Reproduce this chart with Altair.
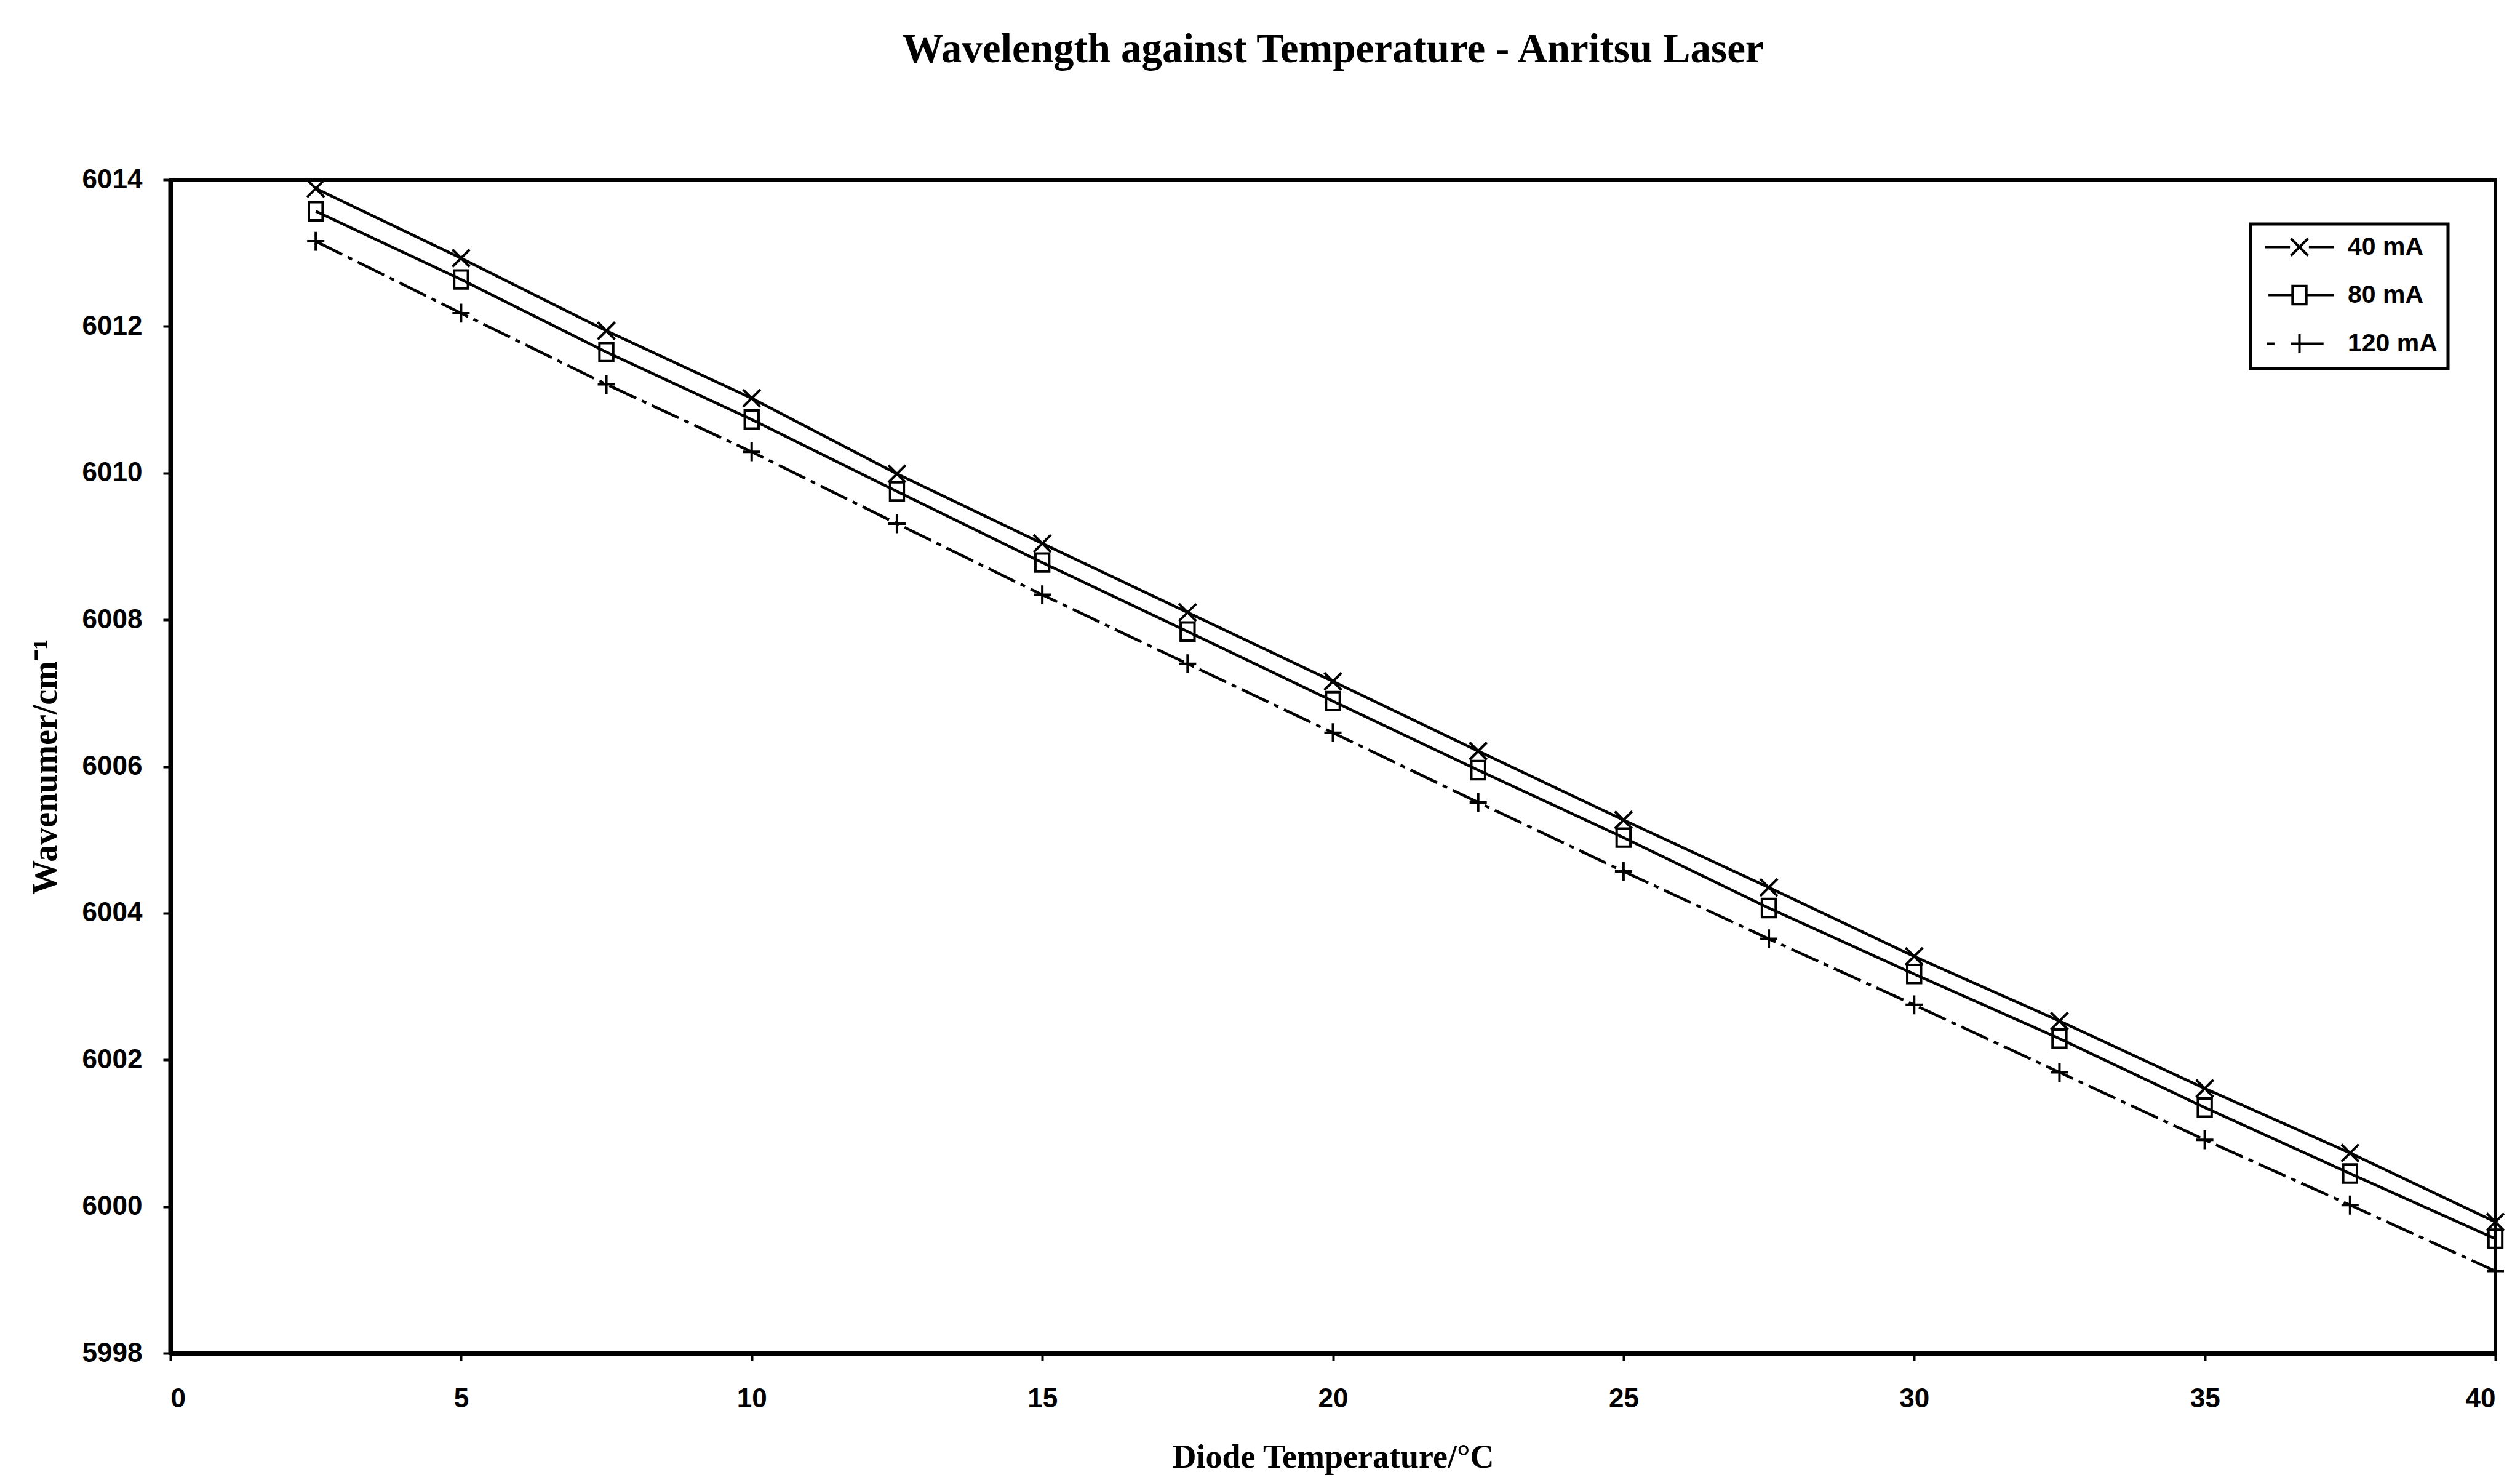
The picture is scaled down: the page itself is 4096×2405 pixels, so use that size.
import altair as alt
import pandas as pd

# ---- data ----
temps = [2.5, 5, 7.5, 10, 12.5, 15, 17.5, 20, 22.5, 25, 27.5, 30, 32.5, 35, 37.5, 40]
wn_40 = [6013.88, 6012.93, 6011.94, 6011.02, 6009.99, 6009.04, 6008.10, 6007.16,
         6006.21, 6005.27, 6004.35, 6003.41, 6002.53, 6001.61, 6000.73, 5999.79]
wn_80 = [6013.57, 6012.64, 6011.65, 6010.73, 6009.75, 6008.78, 6007.84, 6006.89,
         6005.95, 6005.03, 6004.07, 6003.17, 6002.29, 6001.35, 6000.45, 5999.56]
wn_120 = [6013.16, 6012.18, 6011.21, 6010.29, 6009.31, 6008.34, 6007.40, 6006.46,
          6005.51, 6004.57, 6003.65, 6002.75, 6001.83, 6000.91, 6000.02, 5999.12]
series = ["40 mA", "80 mA", "120 mA"]
x_ticks = [0, 5, 10, 15, 20, 25, 30, 35, 40]
y_ticks = [5998, 6000, 6002, 6004, 6006, 6008, 6010, 6012, 6014]

rows = []
for name, vals in zip(series, [wn_40, wn_80, wn_120]):
    for t, v in zip(temps, vals):
        rows.append({"temp": t, "wn": v, "series": name, "key": name})
df = pd.DataFrame(rows)

SERIF = "'Liberation Serif', 'Times New Roman', serif"
SANS = "'Liberation Sans Narrow', 'Liberation Sans', Arial, sans-serif"

# marker shapes (unit box -1..1)
X_PATH = "M-1,-1L1,1M-1,1L1,-1"
SQ_PATH = "M-0.8,-1.05H0.8V1.05H-0.8Z"
PLUS_PATH = "M-1,0H1M0,-1.1V1.1"
# legend symbols: line stubs + marker
LEG_40 = "M-4,0H-1.1M1.1,0H4" + X_PATH
LEG_80 = "M-3.6,0H-0.8M0.8,0H4" + SQ_PATH
LEG_120 = "M-3.8,0H-2.9M1,0H2.8" + PLUS_PATH

W, H = 3779, 1907

xenc = alt.X("temp:Q",
             scale=alt.Scale(domain=[0, 40], nice=False, zero=False),
             axis=alt.Axis(values=x_ticks, title="Diode Temperature/°C",
                           labelPadding=40, titlePadding=46, titleFontSize=54))
yenc = alt.Y("wn:Q",
             scale=alt.Scale(domain=[5998, 6014], nice=False, zero=False),
             axis=alt.Axis(values=y_ticks, format="d", title="Wavenumer/cm⁻¹",
                           labelPadding=34, titlePadding=30))

base = alt.Chart(df)

lines = base.mark_line(color="black", strokeWidth=4.5).encode(
    x=xenc, y=yenc, detail="series:N",
    strokeDash=alt.StrokeDash("series:N",
                              scale=alt.Scale(domain=series,
                                              range=[[1, 0], [1, 0], [48, 10, 8, 10]]),
                              legend=None),
)

points = base.mark_point(filled=False, color="black", strokeWidth=4, size=784, opacity=1).encode(
    x=xenc, y=yenc,
    shape=alt.Shape("series:N",
                    scale=alt.Scale(domain=series, range=[X_PATH, SQ_PATH, PLUS_PATH]),
                    legend=None),
)

legend_layer = base.mark_point(filled=False, color="black", strokeWidth=4, size=784, opacity=0).encode(
    x=xenc, y=yenc,
    shape=alt.Shape("key:N",
                    scale=alt.Scale(domain=series, range=[LEG_40, LEG_80, LEG_120]),
                    legend=alt.Legend(title=None, orient="none", legendX=3381, legendY=72,
                                      symbolSize=784, symbolStrokeWidth=4,
                                      symbolStrokeColor="black", symbolOpacity=1,
                                      symbolOffset=42, labelOffset=58,
                                      labelFont=SANS, labelFontSize=41, labelFontWeight="bold",
                                      labelColor="black",
                                      rowPadding=32, padding=17,
                                      strokeColor="black", fillColor="white")),
)

chart = alt.layer(lines, points, legend_layer).resolve_scale(shape="independent").properties(
    width=W, height=H,
    autosize=alt.AutoSizeParams(type="none"),
    padding={"left": 277, "top": 292, "right": 40, "bottom": 206},
    background="white",
    title=alt.TitleParams("Wavelength against Temperature - Anritsu Laser",
                          font=SERIF, fontSize=67, fontWeight="bold", color="black",
                          anchor="middle", frame="group", offset=155),
).configure_view(
    stroke="black", strokeWidth=6
).configure_axis(
    grid=False, domainColor="black", domainWidth=8,
    tickColor="black", tickWidth=4, tickSize=12,
    labelFont=SANS, labelFontSize=44, labelFontWeight="bold", labelColor="black",
    titleFont=SERIF, titleFontSize=56, titleFontWeight="bold", titleColor="black",
).configure_legend(
    strokeWidth=5
)

chart.save("out.html", embed_options={"renderer": "svg", "actions": False})
